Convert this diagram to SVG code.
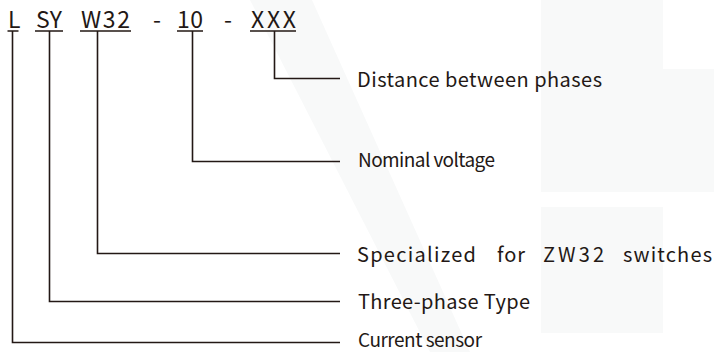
<svg xmlns="http://www.w3.org/2000/svg" width="714" height="352" viewBox="0 0 714 352">
<style>
.t{font-family:"Noto Sans CJK SC","Noto Sans","Liberation Sans",sans-serif;fill:#231815}
.h{font-size:23px}
.l{font-size:20px}
.s{font-size:19px}
.c{stroke:#231815;stroke-width:1.6;fill:none}
.bg{fill:#f8f9f9}
</style>
<g id="background">
<polygon class="bg" points="250,0 312,0 470,352 430,352"/>
<path class="bg" d="M541,0H663V69H714V192H541Z"/>
<rect class="bg" x="541" y="207" width="122" height="126"/>
</g>
<g id="code">
<text class="t h" x="8" y="28">L</text>
<text class="t h" x="36" y="28" textLength="26" lengthAdjust="spacing">SY</text>
<text class="t h" x="81" y="28" textLength="49" lengthAdjust="spacing">W32</text>
<text class="t h" x="153" y="28">-</text>
<text class="t h" x="177" y="28" textLength="26" lengthAdjust="spacing">10</text>
<text class="t h" x="224" y="28">-</text>
<text class="t h" x="251" y="28" textLength="45" lengthAdjust="spacing">XXX</text>
<path class="c" d="M7.5,31H18.5M35,31H63M80,31H131M177,31H203M250,31H296"/>
</g>
<g id="connectors">
<path class="c" d="M274.5,31V78.5H340"/>
<path class="c" d="M192.5,31V161.5H340"/>
<path class="c" d="M97.5,31V253.5H340"/>
<path class="c" d="M49.5,31V301.5H340"/>
<path class="c" d="M12.5,31V342.5H340"/>
</g>
<g id="distance"><text class="t l" x="357" y="87" textLength="245" lengthAdjust="spacing">Distance between phases</text></g>
<g id="voltage"><text class="t s" x="358" y="167" textLength="137" lengthAdjust="spacing">Nominal voltage</text></g>
<g id="specialized"><text class="t l" y="262"><tspan x="357" textLength="119" lengthAdjust="spacing">Specialized</tspan><tspan x="497" textLength="28" lengthAdjust="spacing">for</tspan><tspan x="543" textLength="61" lengthAdjust="spacing">ZW32</tspan><tspan x="623" textLength="89" lengthAdjust="spacing">switches</tspan></text></g>
<g id="threephase"><text class="t l" x="358" y="309" textLength="172" lengthAdjust="spacing">Three-phase Type</text></g>
<g id="sensor"><text class="t s" x="358" y="347" textLength="124" lengthAdjust="spacing">Current sensor</text></g>
</svg>
